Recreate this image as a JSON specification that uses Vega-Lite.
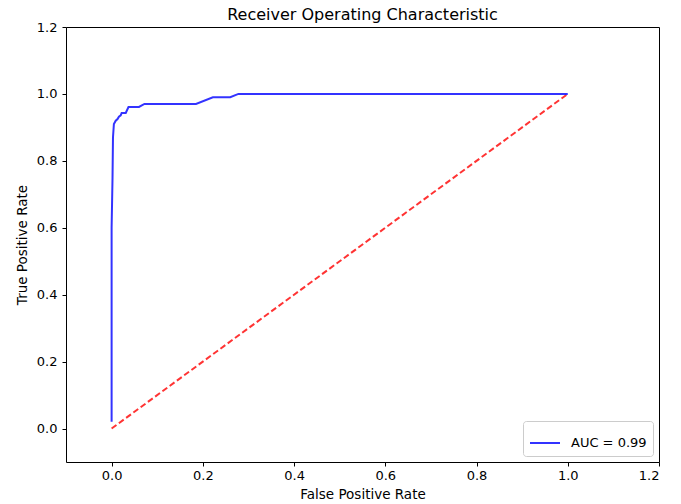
{
  "$schema": "https://vega.github.io/schema/vega-lite/v6.json",
  "width": 593,
  "height": 435,
  "autosize": {"type": "none"},
  "padding": {"left": 66, "top": 27, "right": 22, "bottom": 42},
  "background": "white",
  "config": {
    "font": "DejaVu Sans",
    "view": {"stroke": "#000000", "strokeWidth": 1},
    "axis": {
      "grid": false,
      "domain": false,
      "tickColor": "#000000",
      "tickSize": 4,
      "tickWidth": 1,
      "labelColor": "#000000",
      "labelFontSize": 13,
      "labelFont": "DejaVu Sans",
      "titleFont": "DejaVu Sans",
      "titleFontSize": 13.5,
      "titleFontWeight": "normal",
      "titleColor": "#000000",
      "labelPadding": 3
    }
  },
  "title": {
    "text": "Receiver Operating Characteristic",
    "fontSize": 16,
    "fontWeight": "normal",
    "font": "DejaVu Sans",
    "color": "#000000",
    "offset": -2
  },
  "datasets": {
    "roc": [
      {"fpr": 0.0, "tpr": 0.02, "series": "AUC = 0.99"},
      {"fpr": 0.0, "tpr": 0.6, "series": "AUC = 0.99"},
      {"fpr": 0.002, "tpr": 0.75, "series": "AUC = 0.99"},
      {"fpr": 0.003, "tpr": 0.87, "series": "AUC = 0.99"},
      {"fpr": 0.005, "tpr": 0.91, "series": "AUC = 0.99"},
      {"fpr": 0.009, "tpr": 0.92, "series": "AUC = 0.99"},
      {"fpr": 0.013, "tpr": 0.925, "series": "AUC = 0.99"},
      {"fpr": 0.016, "tpr": 0.932, "series": "AUC = 0.99"},
      {"fpr": 0.02, "tpr": 0.936, "series": "AUC = 0.99"},
      {"fpr": 0.022, "tpr": 0.943, "series": "AUC = 0.99"},
      {"fpr": 0.031, "tpr": 0.943, "series": "AUC = 0.99"},
      {"fpr": 0.037, "tpr": 0.961, "series": "AUC = 0.99"},
      {"fpr": 0.06, "tpr": 0.961, "series": "AUC = 0.99"},
      {"fpr": 0.072, "tpr": 0.97, "series": "AUC = 0.99"},
      {"fpr": 0.185, "tpr": 0.97, "series": "AUC = 0.99"},
      {"fpr": 0.222, "tpr": 0.99, "series": "AUC = 0.99"},
      {"fpr": 0.26, "tpr": 0.99, "series": "AUC = 0.99"},
      {"fpr": 0.278, "tpr": 1.0, "series": "AUC = 0.99"},
      {"fpr": 1.0, "tpr": 1.0, "series": "AUC = 0.99"}
    ],
    "diag": [
      {"fpr": 0, "tpr": 0},
      {"fpr": 1, "tpr": 1}
    ]
  },
  "layer": [
    {
      "data": {"name": "diag"},
      "mark": {"type": "line", "color": "#ff0000", "opacity": 0.8, "strokeWidth": 2, "strokeDash": [6, 3], "clip": true},
      "encoding": {
        "x": {"field": "fpr", "type": "quantitative"},
        "y": {"field": "tpr", "type": "quantitative"}
      }
    },
    {
      "data": {"name": "roc"},
      "mark": {"type": "line", "strokeWidth": 2, "opacity": 0.8, "clip": true},
      "encoding": {
        "x": {
          "field": "fpr",
          "type": "quantitative",
          "title": "False Positive Rate",
          "scale": {"domain": [-0.1, 1.2], "nice": false, "zero": false},
          "axis": {"values": [0, 0.2, 0.4, 0.6, 0.8, 1.0, 1.2], "format": ".1f", "titlePadding": 5}
        },
        "y": {
          "field": "tpr",
          "type": "quantitative",
          "title": "True Positive Rate",
          "scale": {"domain": [-0.1, 1.2], "nice": false, "zero": false},
          "axis": {"values": [0, 0.2, 0.4, 0.6, 0.8, 1.0, 1.2], "format": ".1f", "labelPadding": 5, "titlePadding": 7}
        },
        "order": {"field": "fpr", "type": "quantitative"},
        "color": {
          "field": "series",
          "type": "nominal",
          "scale": {"range": ["#0000ff"]},
          "legend": {
            "title": null,
            "orient": "bottom-right",
            "offset": 6,
            "symbolType": "stroke",
            "symbolStrokeWidth": 2,
            "symbolSize": 900,
            "symbolOpacity": 0.8,
            "labelFontSize": 13,
            "labelOffset": 10,
            "labelFont": "DejaVu Sans",
            "labelColor": "#000000",
            "strokeColor": "#cccccc",
            "fillColor": "white",
            "cornerRadius": 3,
            "padding": 6
          }
        }
      }
    }
  ]
}
